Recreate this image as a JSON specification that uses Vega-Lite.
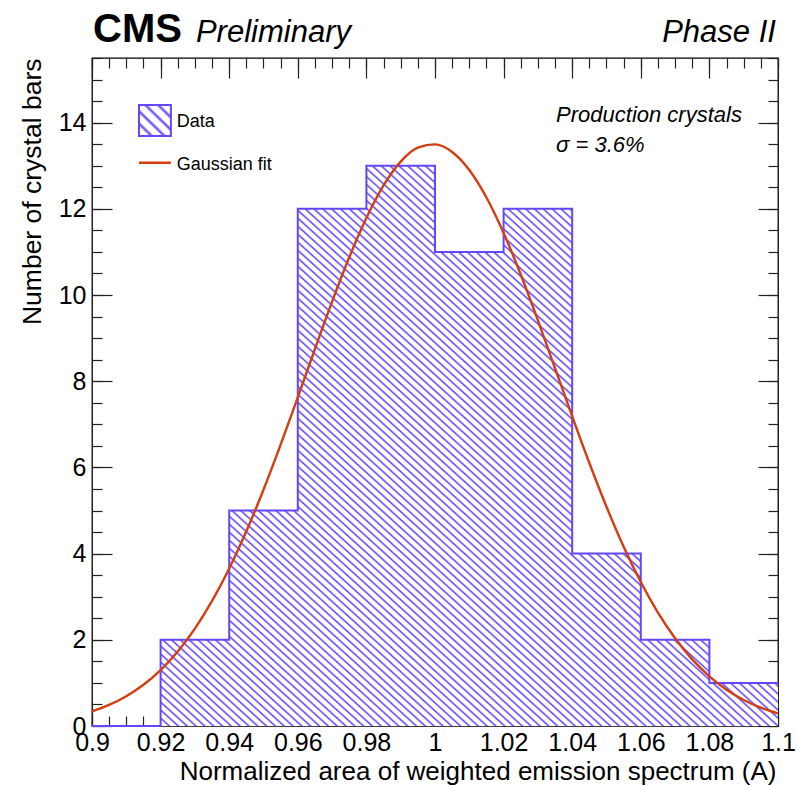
{
"$schema":"https://vega.github.io/schema/vega-lite/v6.json",
"width":686,"height":668,
"autosize":{"type":"none"},
"padding":{"left":92,"top":58,"right":19,"bottom":59},
"background":"white",
"config":{"view":{"stroke":"#000","strokeWidth":1.3},
"axis":{"grid":false,"domain":false,"labelFont":"Liberation Sans","titleFont":"Liberation Sans","tickColor":"#222","tickWidth":1.2,"labelColor":"#000","titleColor":"#000","titleFontWeight":"normal","labelOverlap":false,"labelFlush":false,"title":null},
"text":{"font":"Liberation Sans","color":"#000"}},
"datasets":{
"hist":[{"x":0.9,"y":0},{"x":0.92,"y":2},{"x":0.94,"y":5},{"x":0.96,"y":12},{"x":0.98,"y":13},{"x":1.0,"y":11},{"x":1.02,"y":12},{"x":1.04,"y":4},{"x":1.06,"y":2},{"x":1.08,"y":1},{"x":1.1,"y":1}],
"gauss":[{"x":0.9,"y":0.341},{"x":0.905,"y":0.49},{"x":0.91,"y":0.691},{"x":0.915,"y":0.956},{"x":0.92,"y":1.298},{"x":0.925,"y":1.729},{"x":0.93,"y":2.261},{"x":0.935,"y":2.902},{"x":0.94,"y":3.656},{"x":0.945,"y":4.519},{"x":0.95,"y":5.483},{"x":0.955,"y":6.528},{"x":0.96,"y":7.628},{"x":0.965,"y":8.748},{"x":0.97,"y":9.846},{"x":0.975,"y":10.875},{"x":0.98,"y":11.789},{"x":0.985,"y":12.543},{"x":0.99,"y":13.096},{"x":0.995,"y":13.419},{"x":1.0,"y":13.495},{"x":1.005,"y":13.319},{"x":1.01,"y":12.901},{"x":1.015,"y":12.263},{"x":1.02,"y":11.441},{"x":1.025,"y":10.475},{"x":1.03,"y":9.412},{"x":1.035,"y":8.301},{"x":1.04,"y":7.184},{"x":1.045,"y":6.102},{"x":1.05,"y":5.086},{"x":1.055,"y":4.161},{"x":1.06,"y":3.341},{"x":1.065,"y":2.632},{"x":1.07,"y":2.036},{"x":1.075,"y":1.545},{"x":1.08,"y":1.151},{"x":1.085,"y":0.841},{"x":1.09,"y":0.603},{"x":1.095,"y":0.425},{"x":1.1,"y":0.293}]
},
"resolve":{"axis":{"x":"independent","y":"independent"}},
"layer":[
{"data":{"name":"hist"},
"transform":[{"filter":"datum.x >= 0.915"}],
"mark":{"type":"area","interpolate":"step-after","opacity":1,"fill":{"gradient":"linear","x1":0,"y1":1,"x2":1,"y2":0,"stops":[
{"offset":0,"color":"#5b40f5"},{"offset":0.0018,"color":"#fff"},{"offset":0.0054,"color":"#fff"},{"offset":0.0071,"color":"#5b40f5"},{"offset":0.0089,"color":"#fff"},{"offset":0.0125,"color":"#fff"},{"offset":0.0143,"color":"#5b40f5"},{"offset":0.0161,"color":"#fff"},{"offset":0.0196,"color":"#fff"},{"offset":0.0214,"color":"#5b40f5"},{"offset":0.0232,"color":"#fff"},{"offset":0.0268,"color":"#fff"},{"offset":0.0286,"color":"#5b40f5"},{"offset":0.0304,"color":"#fff"},{"offset":0.0339,"color":"#fff"},{"offset":0.0357,"color":"#5b40f5"},{"offset":0.0375,"color":"#fff"},{"offset":0.0411,"color":"#fff"},{"offset":0.0429,"color":"#5b40f5"},{"offset":0.0446,"color":"#fff"},{"offset":0.0482,"color":"#fff"},
{"offset":0.05,"color":"#5b40f5"},{"offset":0.0518,"color":"#fff"},{"offset":0.0554,"color":"#fff"},{"offset":0.0571,"color":"#5b40f5"},{"offset":0.0589,"color":"#fff"},{"offset":0.0625,"color":"#fff"},{"offset":0.0643,"color":"#5b40f5"},{"offset":0.0661,"color":"#fff"},{"offset":0.0696,"color":"#fff"},{"offset":0.0714,"color":"#5b40f5"},{"offset":0.0732,"color":"#fff"},{"offset":0.0768,"color":"#fff"},{"offset":0.0786,"color":"#5b40f5"},{"offset":0.0804,"color":"#fff"},{"offset":0.0839,"color":"#fff"},{"offset":0.0857,"color":"#5b40f5"},{"offset":0.0875,"color":"#fff"},{"offset":0.0911,"color":"#fff"},{"offset":0.0929,"color":"#5b40f5"},{"offset":0.0946,"color":"#fff"},{"offset":0.0982,"color":"#fff"},
{"offset":0.1,"color":"#5b40f5"},{"offset":0.1018,"color":"#fff"},{"offset":0.1054,"color":"#fff"},{"offset":0.1071,"color":"#5b40f5"},{"offset":0.1089,"color":"#fff"},{"offset":0.1125,"color":"#fff"},{"offset":0.1143,"color":"#5b40f5"},{"offset":0.1161,"color":"#fff"},{"offset":0.1196,"color":"#fff"},{"offset":0.1214,"color":"#5b40f5"},{"offset":0.1232,"color":"#fff"},{"offset":0.1268,"color":"#fff"},{"offset":0.1286,"color":"#5b40f5"},{"offset":0.1304,"color":"#fff"},{"offset":0.1339,"color":"#fff"},{"offset":0.1357,"color":"#5b40f5"},{"offset":0.1375,"color":"#fff"},{"offset":0.1411,"color":"#fff"},{"offset":0.1429,"color":"#5b40f5"},{"offset":0.1446,"color":"#fff"},{"offset":0.1482,"color":"#fff"},
{"offset":0.15,"color":"#5b40f5"},{"offset":0.1518,"color":"#fff"},{"offset":0.1554,"color":"#fff"},{"offset":0.1571,"color":"#5b40f5"},{"offset":0.1589,"color":"#fff"},{"offset":0.1625,"color":"#fff"},{"offset":0.1643,"color":"#5b40f5"},{"offset":0.1661,"color":"#fff"},{"offset":0.1696,"color":"#fff"},{"offset":0.1714,"color":"#5b40f5"},{"offset":0.1732,"color":"#fff"},{"offset":0.1768,"color":"#fff"},{"offset":0.1786,"color":"#5b40f5"},{"offset":0.1804,"color":"#fff"},{"offset":0.1839,"color":"#fff"},{"offset":0.1857,"color":"#5b40f5"},{"offset":0.1875,"color":"#fff"},{"offset":0.1911,"color":"#fff"},{"offset":0.1929,"color":"#5b40f5"},{"offset":0.1946,"color":"#fff"},{"offset":0.1982,"color":"#fff"},
{"offset":0.2,"color":"#5b40f5"},{"offset":0.2018,"color":"#fff"},{"offset":0.2054,"color":"#fff"},{"offset":0.2071,"color":"#5b40f5"},{"offset":0.2089,"color":"#fff"},{"offset":0.2125,"color":"#fff"},{"offset":0.2143,"color":"#5b40f5"},{"offset":0.2161,"color":"#fff"},{"offset":0.2196,"color":"#fff"},{"offset":0.2214,"color":"#5b40f5"},{"offset":0.2232,"color":"#fff"},{"offset":0.2268,"color":"#fff"},{"offset":0.2286,"color":"#5b40f5"},{"offset":0.2304,"color":"#fff"},{"offset":0.2339,"color":"#fff"},{"offset":0.2357,"color":"#5b40f5"},{"offset":0.2375,"color":"#fff"},{"offset":0.2411,"color":"#fff"},{"offset":0.2429,"color":"#5b40f5"},{"offset":0.2446,"color":"#fff"},{"offset":0.2482,"color":"#fff"},
{"offset":0.25,"color":"#5b40f5"},{"offset":0.2518,"color":"#fff"},{"offset":0.2554,"color":"#fff"},{"offset":0.2571,"color":"#5b40f5"},{"offset":0.2589,"color":"#fff"},{"offset":0.2625,"color":"#fff"},{"offset":0.2643,"color":"#5b40f5"},{"offset":0.2661,"color":"#fff"},{"offset":0.2696,"color":"#fff"},{"offset":0.2714,"color":"#5b40f5"},{"offset":0.2732,"color":"#fff"},{"offset":0.2768,"color":"#fff"},{"offset":0.2786,"color":"#5b40f5"},{"offset":0.2804,"color":"#fff"},{"offset":0.2839,"color":"#fff"},{"offset":0.2857,"color":"#5b40f5"},{"offset":0.2875,"color":"#fff"},{"offset":0.2911,"color":"#fff"},{"offset":0.2929,"color":"#5b40f5"},{"offset":0.2946,"color":"#fff"},{"offset":0.2982,"color":"#fff"},
{"offset":0.3,"color":"#5b40f5"},{"offset":0.3018,"color":"#fff"},{"offset":0.3054,"color":"#fff"},{"offset":0.3071,"color":"#5b40f5"},{"offset":0.3089,"color":"#fff"},{"offset":0.3125,"color":"#fff"},{"offset":0.3143,"color":"#5b40f5"},{"offset":0.3161,"color":"#fff"},{"offset":0.3196,"color":"#fff"},{"offset":0.3214,"color":"#5b40f5"},{"offset":0.3232,"color":"#fff"},{"offset":0.3268,"color":"#fff"},{"offset":0.3286,"color":"#5b40f5"},{"offset":0.3304,"color":"#fff"},{"offset":0.3339,"color":"#fff"},{"offset":0.3357,"color":"#5b40f5"},{"offset":0.3375,"color":"#fff"},{"offset":0.3411,"color":"#fff"},{"offset":0.3429,"color":"#5b40f5"},{"offset":0.3446,"color":"#fff"},{"offset":0.3482,"color":"#fff"},
{"offset":0.35,"color":"#5b40f5"},{"offset":0.3518,"color":"#fff"},{"offset":0.3554,"color":"#fff"},{"offset":0.3571,"color":"#5b40f5"},{"offset":0.3589,"color":"#fff"},{"offset":0.3625,"color":"#fff"},{"offset":0.3643,"color":"#5b40f5"},{"offset":0.3661,"color":"#fff"},{"offset":0.3696,"color":"#fff"},{"offset":0.3714,"color":"#5b40f5"},{"offset":0.3732,"color":"#fff"},{"offset":0.3768,"color":"#fff"},{"offset":0.3786,"color":"#5b40f5"},{"offset":0.3804,"color":"#fff"},{"offset":0.3839,"color":"#fff"},{"offset":0.3857,"color":"#5b40f5"},{"offset":0.3875,"color":"#fff"},{"offset":0.3911,"color":"#fff"},{"offset":0.3929,"color":"#5b40f5"},{"offset":0.3946,"color":"#fff"},{"offset":0.3982,"color":"#fff"},
{"offset":0.4,"color":"#5b40f5"},{"offset":0.4018,"color":"#fff"},{"offset":0.4054,"color":"#fff"},{"offset":0.4071,"color":"#5b40f5"},{"offset":0.4089,"color":"#fff"},{"offset":0.4125,"color":"#fff"},{"offset":0.4143,"color":"#5b40f5"},{"offset":0.4161,"color":"#fff"},{"offset":0.4196,"color":"#fff"},{"offset":0.4214,"color":"#5b40f5"},{"offset":0.4232,"color":"#fff"},{"offset":0.4268,"color":"#fff"},{"offset":0.4286,"color":"#5b40f5"},{"offset":0.4304,"color":"#fff"},{"offset":0.4339,"color":"#fff"},{"offset":0.4357,"color":"#5b40f5"},{"offset":0.4375,"color":"#fff"},{"offset":0.4411,"color":"#fff"},{"offset":0.4429,"color":"#5b40f5"},{"offset":0.4446,"color":"#fff"},{"offset":0.4482,"color":"#fff"},
{"offset":0.45,"color":"#5b40f5"},{"offset":0.4518,"color":"#fff"},{"offset":0.4554,"color":"#fff"},{"offset":0.4571,"color":"#5b40f5"},{"offset":0.4589,"color":"#fff"},{"offset":0.4625,"color":"#fff"},{"offset":0.4643,"color":"#5b40f5"},{"offset":0.4661,"color":"#fff"},{"offset":0.4696,"color":"#fff"},{"offset":0.4714,"color":"#5b40f5"},{"offset":0.4732,"color":"#fff"},{"offset":0.4768,"color":"#fff"},{"offset":0.4786,"color":"#5b40f5"},{"offset":0.4804,"color":"#fff"},{"offset":0.4839,"color":"#fff"},{"offset":0.4857,"color":"#5b40f5"},{"offset":0.4875,"color":"#fff"},{"offset":0.4911,"color":"#fff"},{"offset":0.4929,"color":"#5b40f5"},{"offset":0.4946,"color":"#fff"},{"offset":0.4982,"color":"#fff"},
{"offset":0.5,"color":"#5b40f5"},{"offset":0.5018,"color":"#fff"},{"offset":0.5054,"color":"#fff"},{"offset":0.5071,"color":"#5b40f5"},{"offset":0.5089,"color":"#fff"},{"offset":0.5125,"color":"#fff"},{"offset":0.5143,"color":"#5b40f5"},{"offset":0.5161,"color":"#fff"},{"offset":0.5196,"color":"#fff"},{"offset":0.5214,"color":"#5b40f5"},{"offset":0.5232,"color":"#fff"},{"offset":0.5268,"color":"#fff"},{"offset":0.5286,"color":"#5b40f5"},{"offset":0.5304,"color":"#fff"},{"offset":0.5339,"color":"#fff"},{"offset":0.5357,"color":"#5b40f5"},{"offset":0.5375,"color":"#fff"},{"offset":0.5411,"color":"#fff"},{"offset":0.5429,"color":"#5b40f5"},{"offset":0.5446,"color":"#fff"},{"offset":0.5482,"color":"#fff"},
{"offset":0.55,"color":"#5b40f5"},{"offset":0.5518,"color":"#fff"},{"offset":0.5554,"color":"#fff"},{"offset":0.5571,"color":"#5b40f5"},{"offset":0.5589,"color":"#fff"},{"offset":0.5625,"color":"#fff"},{"offset":0.5643,"color":"#5b40f5"},{"offset":0.5661,"color":"#fff"},{"offset":0.5696,"color":"#fff"},{"offset":0.5714,"color":"#5b40f5"},{"offset":0.5732,"color":"#fff"},{"offset":0.5768,"color":"#fff"},{"offset":0.5786,"color":"#5b40f5"},{"offset":0.5804,"color":"#fff"},{"offset":0.5839,"color":"#fff"},{"offset":0.5857,"color":"#5b40f5"},{"offset":0.5875,"color":"#fff"},{"offset":0.5911,"color":"#fff"},{"offset":0.5929,"color":"#5b40f5"},{"offset":0.5946,"color":"#fff"},{"offset":0.5982,"color":"#fff"},
{"offset":0.6,"color":"#5b40f5"},{"offset":0.6018,"color":"#fff"},{"offset":0.6054,"color":"#fff"},{"offset":0.6071,"color":"#5b40f5"},{"offset":0.6089,"color":"#fff"},{"offset":0.6125,"color":"#fff"},{"offset":0.6143,"color":"#5b40f5"},{"offset":0.6161,"color":"#fff"},{"offset":0.6196,"color":"#fff"},{"offset":0.6214,"color":"#5b40f5"},{"offset":0.6232,"color":"#fff"},{"offset":0.6268,"color":"#fff"},{"offset":0.6286,"color":"#5b40f5"},{"offset":0.6304,"color":"#fff"},{"offset":0.6339,"color":"#fff"},{"offset":0.6357,"color":"#5b40f5"},{"offset":0.6375,"color":"#fff"},{"offset":0.6411,"color":"#fff"},{"offset":0.6429,"color":"#5b40f5"},{"offset":0.6446,"color":"#fff"},{"offset":0.6482,"color":"#fff"},
{"offset":0.65,"color":"#5b40f5"},{"offset":0.6518,"color":"#fff"},{"offset":0.6554,"color":"#fff"},{"offset":0.6571,"color":"#5b40f5"},{"offset":0.6589,"color":"#fff"},{"offset":0.6625,"color":"#fff"},{"offset":0.6643,"color":"#5b40f5"},{"offset":0.6661,"color":"#fff"},{"offset":0.6696,"color":"#fff"},{"offset":0.6714,"color":"#5b40f5"},{"offset":0.6732,"color":"#fff"},{"offset":0.6768,"color":"#fff"},{"offset":0.6786,"color":"#5b40f5"},{"offset":0.6804,"color":"#fff"},{"offset":0.6839,"color":"#fff"},{"offset":0.6857,"color":"#5b40f5"},{"offset":0.6875,"color":"#fff"},{"offset":0.6911,"color":"#fff"},{"offset":0.6929,"color":"#5b40f5"},{"offset":0.6946,"color":"#fff"},{"offset":0.6982,"color":"#fff"},
{"offset":0.7,"color":"#5b40f5"},{"offset":0.7018,"color":"#fff"},{"offset":0.7054,"color":"#fff"},{"offset":0.7071,"color":"#5b40f5"},{"offset":0.7089,"color":"#fff"},{"offset":0.7125,"color":"#fff"},{"offset":0.7143,"color":"#5b40f5"},{"offset":0.7161,"color":"#fff"},{"offset":0.7196,"color":"#fff"},{"offset":0.7214,"color":"#5b40f5"},{"offset":0.7232,"color":"#fff"},{"offset":0.7268,"color":"#fff"},{"offset":0.7286,"color":"#5b40f5"},{"offset":0.7304,"color":"#fff"},{"offset":0.7339,"color":"#fff"},{"offset":0.7357,"color":"#5b40f5"},{"offset":0.7375,"color":"#fff"},{"offset":0.7411,"color":"#fff"},{"offset":0.7429,"color":"#5b40f5"},{"offset":0.7446,"color":"#fff"},{"offset":0.7482,"color":"#fff"},
{"offset":0.75,"color":"#5b40f5"},{"offset":0.7518,"color":"#fff"},{"offset":0.7554,"color":"#fff"},{"offset":0.7571,"color":"#5b40f5"},{"offset":0.7589,"color":"#fff"},{"offset":0.7625,"color":"#fff"},{"offset":0.7643,"color":"#5b40f5"},{"offset":0.7661,"color":"#fff"},{"offset":0.7696,"color":"#fff"},{"offset":0.7714,"color":"#5b40f5"},{"offset":0.7732,"color":"#fff"},{"offset":0.7768,"color":"#fff"},{"offset":0.7786,"color":"#5b40f5"},{"offset":0.7804,"color":"#fff"},{"offset":0.7839,"color":"#fff"},{"offset":0.7857,"color":"#5b40f5"},{"offset":0.7875,"color":"#fff"},{"offset":0.7911,"color":"#fff"},{"offset":0.7929,"color":"#5b40f5"},{"offset":0.7946,"color":"#fff"},{"offset":0.7982,"color":"#fff"},
{"offset":0.8,"color":"#5b40f5"},{"offset":0.8018,"color":"#fff"},{"offset":0.8054,"color":"#fff"},{"offset":0.8071,"color":"#5b40f5"},{"offset":0.8089,"color":"#fff"},{"offset":0.8125,"color":"#fff"},{"offset":0.8143,"color":"#5b40f5"},{"offset":0.8161,"color":"#fff"},{"offset":0.8196,"color":"#fff"},{"offset":0.8214,"color":"#5b40f5"},{"offset":0.8232,"color":"#fff"},{"offset":0.8268,"color":"#fff"},{"offset":0.8286,"color":"#5b40f5"},{"offset":0.8304,"color":"#fff"},{"offset":0.8339,"color":"#fff"},{"offset":0.8357,"color":"#5b40f5"},{"offset":0.8375,"color":"#fff"},{"offset":0.8411,"color":"#fff"},{"offset":0.8429,"color":"#5b40f5"},{"offset":0.8446,"color":"#fff"},{"offset":0.8482,"color":"#fff"},
{"offset":0.85,"color":"#5b40f5"},{"offset":0.8518,"color":"#fff"},{"offset":0.8554,"color":"#fff"},{"offset":0.8571,"color":"#5b40f5"},{"offset":0.8589,"color":"#fff"},{"offset":0.8625,"color":"#fff"},{"offset":0.8643,"color":"#5b40f5"},{"offset":0.8661,"color":"#fff"},{"offset":0.8696,"color":"#fff"},{"offset":0.8714,"color":"#5b40f5"},{"offset":0.8732,"color":"#fff"},{"offset":0.8768,"color":"#fff"},{"offset":0.8786,"color":"#5b40f5"},{"offset":0.8804,"color":"#fff"},{"offset":0.8839,"color":"#fff"},{"offset":0.8857,"color":"#5b40f5"},{"offset":0.8875,"color":"#fff"},{"offset":0.8911,"color":"#fff"},{"offset":0.8929,"color":"#5b40f5"},{"offset":0.8946,"color":"#fff"},{"offset":0.8982,"color":"#fff"},
{"offset":0.9,"color":"#5b40f5"},{"offset":0.9018,"color":"#fff"},{"offset":0.9054,"color":"#fff"},{"offset":0.9071,"color":"#5b40f5"},{"offset":0.9089,"color":"#fff"},{"offset":0.9125,"color":"#fff"},{"offset":0.9143,"color":"#5b40f5"},{"offset":0.9161,"color":"#fff"},{"offset":0.9196,"color":"#fff"},{"offset":0.9214,"color":"#5b40f5"},{"offset":0.9232,"color":"#fff"},{"offset":0.9268,"color":"#fff"},{"offset":0.9286,"color":"#5b40f5"},{"offset":0.9304,"color":"#fff"},{"offset":0.9339,"color":"#fff"},{"offset":0.9357,"color":"#5b40f5"},{"offset":0.9375,"color":"#fff"},{"offset":0.9411,"color":"#fff"},{"offset":0.9429,"color":"#5b40f5"},{"offset":0.9446,"color":"#fff"},{"offset":0.9482,"color":"#fff"},
{"offset":0.95,"color":"#5b40f5"},{"offset":0.9518,"color":"#fff"},{"offset":0.9554,"color":"#fff"},{"offset":0.9571,"color":"#5b40f5"},{"offset":0.9589,"color":"#fff"},{"offset":0.9625,"color":"#fff"},{"offset":0.9643,"color":"#5b40f5"},{"offset":0.9661,"color":"#fff"},{"offset":0.9696,"color":"#fff"},{"offset":0.9714,"color":"#5b40f5"},{"offset":0.9732,"color":"#fff"},{"offset":0.9768,"color":"#fff"},{"offset":0.9786,"color":"#5b40f5"},{"offset":0.9804,"color":"#fff"},{"offset":0.9839,"color":"#fff"},{"offset":0.9857,"color":"#5b40f5"},{"offset":0.9875,"color":"#fff"},{"offset":0.9911,"color":"#fff"},{"offset":0.9929,"color":"#5b40f5"},{"offset":0.9946,"color":"#fff"},{"offset":0.9982,"color":"#fff"},
{"offset":1,"color":"#5b40f5"}]}},
"encoding":{
"x":{"field":"x","type":"quantitative","scale":{"domain":[0.9,1.1],"nice":false,"zero":false},
"axis":{"orient":"bottom","values":[0.9,0.92,0.94,0.96,0.98,1,1.02,1.04,1.06,1.08,1.1],"format":"~g","ticks":false,"labelFontSize":25,"labelPadding":4,"title":"Normalized area of weighted emission spectrum (A)","titleFontSize":26,"titleX":684,"titleY":53,"titleAlign":"right","titleAnchor":"end","titleBaseline":"alphabetic"}},
"y":{"field":"y","type":"quantitative","scale":{"domain":[0,15.5],"nice":false,"zero":true},
"axis":{"orient":"left","values":[0,2,4,6,8,10,12,14],"ticks":false,"labelFontSize":25,"labelPadding":6,"title":"Number of crystal bars","titleFontSize":26.5,"titleX":-52,"titleY":0,"titleAngle":270,"titleAlign":"right","titleAnchor":"end","titleBaseline":"alphabetic"}}}},
{"data":{"name":"hist"},
"mark":{"type":"line","interpolate":"step-after","stroke":"#6347ff","strokeWidth":2},
"encoding":{
"x":{"field":"x","type":"quantitative","scale":{"domain":[0.9,1.1],"nice":false,"zero":false},
"axis":{"orient":"bottom","values":[0.9,0.92,0.94,0.96,0.98,1,1.02,1.04,1.06,1.08,1.1],"labels":false,"tickSize":-20}},
"y":{"field":"y","type":"quantitative","scale":{"domain":[0,15.5],"nice":false},
"axis":{"orient":"left","values":[0,2,4,6,8,10,12,14],"labels":false,"tickSize":-20}}}},
{"data":{"name":"gauss"},
"mark":{"type":"line","interpolate":"monotone","stroke":"#d43d10","strokeWidth":2.4},
"encoding":{
"x":{"field":"x","type":"quantitative","scale":{"domain":[0.9,1.1],"nice":false,"zero":false},
"axis":{"orient":"bottom","values":[0.9,0.905,0.91,0.915,0.92,0.925,0.93,0.935,0.94,0.945,0.95,0.955,0.96,0.965,0.97,0.975,0.98,0.985,0.99,0.995,1,1.005,1.01,1.015,1.02,1.025,1.03,1.035,1.04,1.045,1.05,1.055,1.06,1.065,1.07,1.075,1.08,1.085,1.09,1.095,1.1],"labels":false,"tickSize":-10}},
"y":{"field":"y","type":"quantitative","scale":{"domain":[0,15.5],"nice":false},
"axis":{"orient":"left","values":[0,0.5,1,1.5,2,2.5,3,3.5,4,4.5,5,5.5,6,6.5,7,7.5,8,8.5,9,9.5,10,10.5,11,11.5,12,12.5,13,13.5,14,14.5,15,15.5],"labels":false,"tickSize":-10}}}},
{"data":{"values":[{"x1":0.9137,"x2":0.923,"y1":13.69,"y2":14.41}]},
"mark":{"type":"rect","stroke":"#6347ff","strokeWidth":2,"fill":{"gradient":"linear","x1":0,"y1":1,"x2":1,"y2":0,"stops":[{"offset":0,"color":"#5b40f5"},{"offset":0.05,"color":"#fff"},{"offset":0.15,"color":"#fff"},{"offset":0.2,"color":"#5b40f5"},{"offset":0.25,"color":"#fff"},{"offset":0.35,"color":"#fff"},{"offset":0.4,"color":"#5b40f5"},{"offset":0.45,"color":"#fff"},{"offset":0.55,"color":"#fff"},{"offset":0.6,"color":"#5b40f5"},{"offset":0.65,"color":"#fff"},{"offset":0.75,"color":"#fff"},{"offset":0.8,"color":"#5b40f5"},{"offset":0.85,"color":"#fff"},{"offset":0.95,"color":"#fff"},{"offset":1,"color":"#5b40f5"}]}},
"encoding":{
"x":{"field":"x1","type":"quantitative","scale":{"domain":[0.9,1.1],"nice":false,"zero":false},
"axis":{"orient":"top","values":[0.9,0.92,0.94,0.96,0.98,1,1.02,1.04,1.06,1.08,1.1],"labels":false,"tickSize":-20}},
"x2":{"field":"x2"},
"y":{"field":"y1","type":"quantitative","scale":{"domain":[0,15.5],"nice":false},
"axis":{"orient":"right","values":[0,2,4,6,8,10,12,14],"labels":false,"tickSize":-20}},
"y2":{"field":"y2"}}},
{"data":{"values":[{"x1":0.9137,"x2":0.923,"y":13.07}]},
"mark":{"type":"rule","stroke":"#d43d10","strokeWidth":2.4},
"encoding":{
"x":{"field":"x1","type":"quantitative","scale":{"domain":[0.9,1.1],"nice":false,"zero":false},
"axis":{"orient":"top","values":[0.9,0.905,0.91,0.915,0.92,0.925,0.93,0.935,0.94,0.945,0.95,0.955,0.96,0.965,0.97,0.975,0.98,0.985,0.99,0.995,1,1.005,1.01,1.015,1.02,1.025,1.03,1.035,1.04,1.045,1.05,1.055,1.06,1.065,1.07,1.075,1.08,1.085,1.09,1.095,1.1],"labels":false,"tickSize":-10}},
"x2":{"field":"x2"},
"y":{"field":"y","type":"quantitative","scale":{"domain":[0,15.5],"nice":false},
"axis":{"orient":"right","values":[0,0.5,1,1.5,2,2.5,3,3.5,4,4.5,5,5.5,6,6.5,7,7.5,8,8.5,9,9.5,10,10.5,11,11.5,12,12.5,13,13.5,14,14.5,15,15.5],"labels":false,"tickSize":-10}}}},
{"data":{"values":[{"x":0.9003,"y":15.87,"label":"CMS"}]},
"mark":{"type":"text","font":"Liberation Sans","fontWeight":"bold","fontSize":40,"align":"left","baseline":"alphabetic"},
"encoding":{"x":{"field":"x","type":"quantitative","scale":{"domain":[0.9,1.1],"nice":false,"zero":false},"axis":null},
"y":{"field":"y","type":"quantitative","scale":{"domain":[0,15.5],"nice":false},"axis":null},
"text":{"field":"label"}}},
{"data":{"values":[{"x":0.9303,"y":15.87,"label":"Preliminary"}]},
"mark":{"type":"text","font":"Liberation Sans","fontStyle":"italic","fontSize":31,"align":"left","baseline":"alphabetic"},
"encoding":{"x":{"field":"x","type":"quantitative","scale":{"domain":[0.9,1.1],"nice":false,"zero":false},"axis":null},
"y":{"field":"y","type":"quantitative","scale":{"domain":[0,15.5],"nice":false},"axis":null},
"text":{"field":"label"}}},
{"data":{"values":[{"x":1.0994,"y":15.87,"label":"Phase II"}]},
"mark":{"type":"text","font":"Liberation Sans","fontStyle":"italic","fontSize":31,"align":"right","baseline":"alphabetic"},
"encoding":{"x":{"field":"x","type":"quantitative","scale":{"domain":[0.9,1.1],"nice":false,"zero":false},"axis":null},
"y":{"field":"y","type":"quantitative","scale":{"domain":[0,15.5],"nice":false},"axis":null},
"text":{"field":"label"}}},
{"data":{"values":[{"x":1.0353,"y":14.02,"label":"Production crystals"},{"x":1.0353,"y":13.32,"label":"σ = 3.6%"}]},
"mark":{"type":"text","font":"Liberation Sans","fontStyle":"italic","fontSize":22,"align":"left","baseline":"alphabetic"},
"encoding":{"x":{"field":"x","type":"quantitative","scale":{"domain":[0.9,1.1],"nice":false,"zero":false},"axis":null},
"y":{"field":"y","type":"quantitative","scale":{"domain":[0,15.5],"nice":false},"axis":null},
"text":{"field":"label"}}},
{"data":{"values":[{"x":0.9247,"y":13.91,"label":"Data"},{"x":0.9247,"y":12.9,"label":"Gaussian fit"}]},
"mark":{"type":"text","font":"Liberation Sans","fontSize":18,"align":"left","baseline":"alphabetic"},
"encoding":{"x":{"field":"x","type":"quantitative","scale":{"domain":[0.9,1.1],"nice":false,"zero":false},"axis":null},
"y":{"field":"y","type":"quantitative","scale":{"domain":[0,15.5],"nice":false},"axis":null},
"text":{"field":"label"}}}
]
}
